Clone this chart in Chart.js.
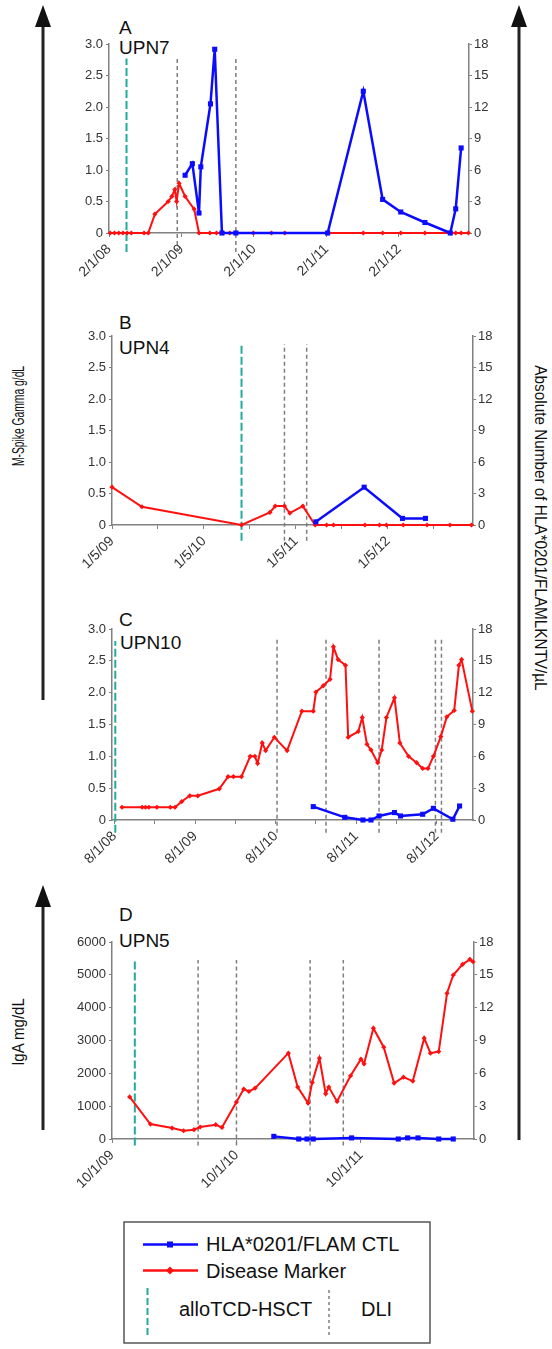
<!DOCTYPE html>
<html><head><meta charset="utf-8">
<script src="https://cdn.jsdelivr.net/npm/chart.js@4.4.1/dist/chart.umd.min.js"></script>
<style>
html,body{margin:0;padding:0;background:#fff;}
body{width:552px;height:1349px;position:relative;overflow:hidden;font-family:"Liberation Sans",Arial,sans-serif;}
canvas{position:absolute;}
.t{position:absolute;line-height:1;white-space:nowrap;color:#111;}
.pl{font-size:19px;}
.lg{font-size:20px;}
.rot{position:absolute;white-space:nowrap;line-height:1;color:#111;}
</style></head><body>
<svg width="552" height="1349" style="position:absolute;left:0;top:0">
  <line x1="43" y1="22" x2="43" y2="700" stroke="#222" stroke-width="3"/>
  <polygon points="43,5 35,27 51,27" fill="#111"/>
  <line x1="43" y1="902" x2="43" y2="1130" stroke="#222" stroke-width="3"/>
  <polygon points="43,885 35,907 51,907" fill="#111"/>
  <line x1="519" y1="22" x2="519" y2="1140" stroke="#222" stroke-width="3"/>
  <polygon points="519,5 511,27 527,27" fill="#111"/>
  <rect x="124" y="1222" width="306" height="121" fill="none" stroke="#555" stroke-width="1.5"/>
  <line x1="143" y1="1244.5" x2="198" y2="1244.5" stroke="#0b0bff" stroke-width="2.5"/>
  <rect x="167" y="1241.5" width="6" height="6" fill="#0b0bff"/>
  <line x1="143" y1="1270.5" x2="198" y2="1270.5" stroke="#ff1010" stroke-width="2.5"/>
  <polygon points="170,1266.5 174,1270.5 170,1274.5 166,1270.5" fill="#ff1010"/>
  <line x1="147.5" y1="1288" x2="147.5" y2="1337" stroke="#22aa9c" stroke-width="2" stroke-dasharray="7,3"/>
  <line x1="329" y1="1290" x2="329" y2="1337" stroke="#7f7f7f" stroke-width="1.5" stroke-dasharray="3,3"/>
</svg>

<div class="t pl" style="left:119px;top:17.5px">A</div>
<div class="t pl" style="left:119px;top:37.5px">UPN7</div>
<div class="t pl" style="left:119px;top:312.5px">B</div>
<div class="t pl" style="left:119px;top:337.5px">UPN4</div>
<div class="t pl" style="left:119px;top:609.5px">C</div>
<div class="t pl" style="left:120px;top:632.5px">UPN10</div>
<div class="t pl" style="left:119px;top:904.5px">D</div>
<div class="t pl" style="left:119px;top:930.5px">UPN5</div>

<div class="t lg" style="left:206px;top:1233.5px">HLA*0201/FLAM CTL</div>
<div class="t lg" style="left:206px;top:1260.5px">Disease Marker</div>
<div class="t lg" style="left:179px;top:1299px">alloTCD-HSCT</div>
<div class="t lg" style="left:361px;top:1299px">DLI</div>

<div class="rot" data-r="-90" data-len="100" style="left:18px;top:416px;font-size:17px">M-Spike Gamma g/dL</div>
<div class="rot" data-r="-90" data-len="68" style="left:18px;top:1032px;font-size:17px">IgA mg/dL</div>
<div class="rot" data-r="90" data-len="325" style="left:540px;top:528px;font-size:17px">Absolute Number of HLA*0201/FLAMLKNTV/µL</div>

<script>
// ---------- Panel A: UPN7 (x = months since 2/1/08) ----------
const aTickVals = [0, 12, 24, 36, 48];
const aTickLabels = ['2/1/08', '2/1/09', '2/1/10', '2/1/11', '2/1/12'];
const aCtlX = [12.6, 13.8, 14.9, 15.2, 16.8, 17.5, 18.7, 21.0, 36.2, 42.1, 45.3, 48.3, 52.3, 56.5, 57.4, 58.3];
const aCtlY = [5.5, 6.6, 1.9, 6.3, 12.3, 17.5, 0, 0, 0, 13.5, 3.2, 2.0, 1.0, 0, 2.3, 8.1];
const aDisX = [0.2, 0.9, 1.6, 2.3, 3.0, 3.7, 5.8, 6.5, 7.6, 9.8, 10.4, 10.9, 11.2, 11.6, 12.6, 14.1, 14.9, 16.7, 17.8, 18.9, 20.0, 23.9, 26.9, 29.1, 36.2, 42.1, 45.3, 48.3, 52.3, 56.5, 57.4, 58.3, 59.5];
const aDisY = [0, 0, 0, 0, 0, 0, 0, 0, 0.30, 0.50, 0.58, 0.69, 0.50, 0.79, 0.58, 0.38, 0, 0, 0, 0, 0, 0, 0, 0, 0, 0, 0, 0, 0, 0, 0, 0, 0];
const aHsct = [2.9];
const aDli = [11.3, 21.0];

// ---------- Panel B: UPN4 (x = months since 1/5/09) ----------
const bTickVals = [0, 6, 12, 18, 24, 30, 36, 42];
const bTickLabels = ['1/5/09', '', '1/5/10', '', '1/5/11', '', '1/5/12', ''];
const bCtlX = [26.6, 32.9, 37.9, 40.9];
const bCtlY = [0.3, 3.6, 0.63, 0.63];
const bDisX = [0, 3.9, 16.9, 20.6, 21.3, 22.5, 23.2, 24.9, 26.5, 28.0, 28.9, 33.0, 34.9, 35.8, 38.0, 41.1, 44.1, 46.9];
const bDisY = [0.60, 0.29, 0, 0.20, 0.30, 0.30, 0.19, 0.30, 0, 0, 0, 0, 0, 0, 0, 0, 0, 0];
const bHsct = [16.9];
const bDli = [22.5, 25.4];

// ---------- Panel C: UPN10 (x = months since 8/1/08) ----------
const cTickVals = [0, 6, 12, 18, 24, 30, 36, 42, 48];
const cTickLabels = ['8/1/08', '', '8/1/09', '', '8/1/10', '', '8/1/11', '', '8/1/12'];
const cCtlX = [29.6, 34.3, 37.0, 38.2, 39.4, 41.7, 42.6, 45.9, 47.5, 50.4, 51.4];
const cCtlY = [1.26, 0.25, 0, 0, 0.38, 0.7, 0.38, 0.54, 1.1, 0.07, 1.32];
const cDisX = [1.1, 4.1, 4.6, 5.1, 6.3, 8.3, 9.0, 10.0, 11.2, 12.4, 15.6, 16.9, 17.7, 18.9, 20.2, 20.9, 21.3, 22.0, 22.5, 23.8, 25.7, 27.9, 29.6, 30.0, 31.1, 32.1, 32.6, 33.3, 34.4, 34.8, 36.3, 36.9, 37.6, 38.2, 39.2, 39.8, 40.5, 41.7, 42.5, 43.8, 45.0, 45.9, 46.7, 47.5, 48.6, 49.5, 50.6, 51.3, 51.7, 53.3];
const cDisY = [0.2, 0.2, 0.2, 0.2, 0.2, 0.2, 0.2, 0.29, 0.38, 0.38, 0.49, 0.68, 0.68, 0.68, 1.0, 1.0, 0.89, 1.21, 1.09, 1.30, 1.09, 1.71, 1.71, 2.01, 2.11, 2.21, 2.72, 2.52, 2.43, 1.30, 1.39, 1.61, 1.19, 1.10, 0.90, 1.10, 1.61, 1.92, 1.21, 1.0, 0.90, 0.81, 0.81, 1.0, 1.31, 1.62, 1.72, 2.43, 2.52, 1.71];
const cHsct = [0.1];
const cDli = [24.2, 31.5, 39.4, 47.8, 48.7];

// ---------- Panel D: UPN5 (x = months since 10/1/09) ----------
const dTickVals = [0, 12, 24];
const dTickLabels = ['10/1/09', '10/1/10', '10/1/11'];
const dCtlX = [15.6, 18.0, 18.8, 19.4, 23.1, 27.6, 28.5, 29.5, 31.5, 32.9];
const dCtlY = [0.24, 0, 0, 0, 0.1, 0, 0.1, 0.1, 0, 0];
const dDisX = [1.7, 3.7, 5.8, 6.9, 7.9, 8.5, 10.0, 10.6, 12.0, 12.7, 13.2, 13.8, 17.0, 17.9, 18.9, 19.3, 20.0, 20.6, 20.9, 21.7, 23.0, 24.0, 24.3, 25.2, 26.2, 27.2, 28.1, 29.0, 30.1, 30.7, 31.5, 32.3, 32.9, 33.8, 34.5, 34.8];
const dDisY = [1280, 456, 334, 252, 283, 365, 435, 353, 1125, 1520, 1447, 1550, 2614, 1580, 1094, 1720, 2462, 1377, 1580, 1143, 1924, 2432, 2289, 3374, 2796, 1702, 1884, 1763, 3070, 2614, 2663, 4438, 4994, 5319, 5471, 5400];
const dHsct = [2.2];
const dDli = [8.3, 12.0, 19.1, 22.3];

// ---------- Axis tick values ----------
const mSpikeTicks = [0, 0.5, 1.0, 1.5, 2.0, 2.5, 3.0];
const igaTicks = [0, 1000, 2000, 3000, 4000, 5000, 6000];
const ctlTicks = [0, 3, 6, 9, 12, 15, 18];

const FONT = "'Liberation Sans', Arial, sans-serif";
const BLUE = '#0b0bff', RED = '#ff1010', TEAL = '#22aa9c', GRAY = '#7f7f7f', AX = '#808080', TXT = '#333';

function zip(xs, ys) { return xs.map((x, i) => ({ x: x, y: ys[i] })); }
function vlines(xs, lo, hi) {
  const d = [];
  xs.forEach(x => { d.push({ x: x, y: lo }, { x: x, y: hi }, { x: x, y: null }); });
  return d;
}
const fmtM = v => v === 0 ? '0' : v.toFixed(1);
const fmtI = v => String(v);

function makePanel(o) {
  const cv = document.createElement('canvas');
  const W = o.cr - o.cl, H = o.cb - o.ct;
  cv.width = W; cv.height = H;
  cv.style.left = o.cl + 'px'; cv.style.top = o.ct + 'px';
  cv.style.width = W + 'px'; cv.style.height = H + 'px';
  document.body.appendChild(cv);
  new Chart(cv, {
    type: 'line',
    data: {
      datasets: [
        { data: zip(o.ctlX, o.ctlY), yAxisID: 'y1', borderColor: BLUE, backgroundColor: BLUE,
          borderWidth: 2.5, pointStyle: 'rect', pointRadius: 3.6, pointBorderWidth: 0, clip: false, order: 1 },
        { data: zip(o.disX, o.disY), yAxisID: 'y', borderColor: RED, backgroundColor: RED,
          borderWidth: 2, pointStyle: 'rectRot', pointRadius: 2.6, pointBorderWidth: 0, clip: false, order: 2 },
        { data: vlines(o.hsct, o.vlo, o.vhiH), yAxisID: 'y', borderColor: TEAL, borderWidth: 2,
          borderDash: [8, 3], pointRadius: 0, clip: false, spanGaps: false, order: 3 },
        { data: vlines(o.dli, o.vlo, o.vhi), yAxisID: 'y', borderColor: GRAY, borderWidth: 1.5,
          borderDash: [4, 3], pointRadius: 0, clip: false, spanGaps: false, order: 4 }
      ]
    },
    options: {
      responsive: false, animation: false, devicePixelRatio: 1,
      layout: { padding: { top: o.t - o.ct, left: 0, right: 0, bottom: 0 } },
      plugins: { legend: { display: false }, tooltip: { enabled: false } },
      scales: {
        x: {
          type: 'linear', position: 'bottom', min: o.xmin, max: o.xmax, bounds: 'data',
          afterBuildTicks: s => { s.ticks = o.tickVals.map(v => ({ value: v })); },
          afterFit: s => { s.height = o.cb - o.b; },
          ticks: { autoSkip: false, minRotation: 45, maxRotation: 45, padding: 4, color: TXT,
                   font: { family: FONT, size: 14 },
                   callback: v => { const i = o.tickVals.indexOf(v); return i < 0 ? '' : o.tickLabels[i]; } },
          grid: { drawOnChartArea: false, drawTicks: true, tickLength: 4, color: AX },
          border: { color: AX, width: 1.5 }
        },
        y: {
          position: 'left', min: 0, max: o.ymax, bounds: 'data',
          afterBuildTicks: s => { s.ticks = o.yTicks.map(v => ({ value: v })); },
          afterFit: s => { s.width = o.l - o.cl; },
          ticks: { padding: 3, color: TXT, font: { family: FONT, size: 13 }, callback: o.yFmt },
          grid: { drawOnChartArea: false, tickLength: 3, color: AX },
          border: { color: AX, width: 1.5 }
        },
        y1: {
          position: 'right', min: 0, max: 18, bounds: 'data',
          afterBuildTicks: s => { s.ticks = ctlTicks.map(v => ({ value: v })); },
          afterFit: s => { s.width = o.cr - o.r; },
          ticks: { padding: 2, color: TXT, font: { family: FONT, size: 13 } },
          grid: { drawOnChartArea: false, tickLength: 3, color: AX },
          border: { color: AX, width: 1.5 }
        }
      }
    }
  });
}

makePanel({ cl: 55, cr: 505, ct: 0, cb: 300, l: 109, r: 469, t: 44, b: 233,
  xmin: 0, xmax: 59.6, tickVals: aTickVals, tickLabels: aTickLabels,
  ctlX: aCtlX, ctlY: aCtlY, disX: aDisX, disY: aDisY, hsct: aHsct, dli: aDli,
  vlo: -0.3, vhi: 2.77, vhiH: 2.77, ymax: 3, yTicks: mSpikeTicks, yFmt: fmtM });

makePanel({ cl: 55, cr: 505, ct: 300, cb: 600, l: 112, r: 473, t: 336, b: 525,
  xmin: 0, xmax: 47.1, tickVals: bTickVals, tickLabels: bTickLabels,
  ctlX: bCtlX, ctlY: bCtlY, disX: bDisX, disY: bDisY, hsct: bHsct, dli: bDli,
  vlo: -0.25, vhi: 2.87, vhiH: 2.87, ymax: 3, yTicks: mSpikeTicks, yFmt: fmtM });

makePanel({ cl: 55, cr: 505, ct: 600, cb: 890, l: 112, r: 473, t: 629, b: 820,
  xmin: -0.39, xmax: 53.4, tickVals: cTickVals, tickLabels: cTickLabels,
  ctlX: cCtlX, ctlY: cCtlY, disX: cDisX, disY: cDisY, hsct: cHsct, dli: cDli,
  vlo: -0.2, vhi: 2.86, vhiH: 2.81, ymax: 3, yTicks: mSpikeTicks, yFmt: fmtM });

makePanel({ cl: 55, cr: 505, ct: 900, cb: 1200, l: 112, r: 474, t: 942, b: 1139,
  xmin: 0, xmax: 34.9, tickVals: dTickVals, tickLabels: dTickLabels,
  ctlX: dCtlX, ctlY: dCtlY, disX: dDisX, disY: dDisY, hsct: dHsct, dli: dDli,
  vlo: -200, vhi: 5450, vhiH: 5450, ymax: 6000, yTicks: igaTicks, yFmt: fmtI });

document.querySelectorAll('.rot').forEach(el => {
  const w = el.offsetWidth;
  const s = parseFloat(el.dataset.len) / w;
  el.style.transform = 'translate(-50%,-50%) rotate(' + el.dataset.r + 'deg) scaleX(' + s + ')';
});
</script>
</body></html>
